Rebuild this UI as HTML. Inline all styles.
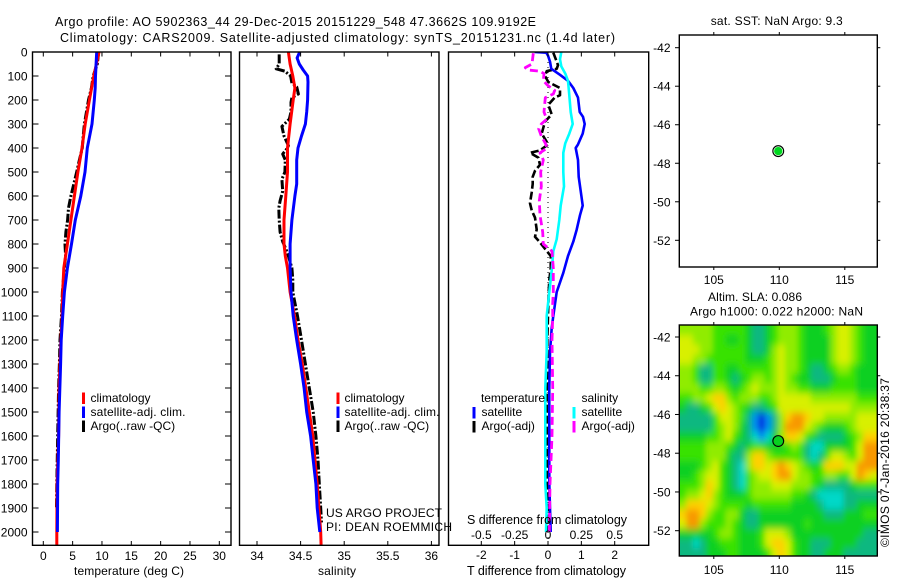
<!DOCTYPE html>
<html>
<head>
<meta charset="utf-8">
<title>Argo profile</title>
<style>
html,body{margin:0;padding:0;background:#fff;}
svg{display:block;}
text{font-family:"Liberation Sans",sans-serif;font-size:12px;fill:#000;}
text.wide{font-size:12.5px;}
</style>
</head>
<body>
<svg id="chart" width="900" height="580" viewBox="0 0 900 580" xmlns="http://www.w3.org/2000/svg">
  <rect width="900" height="580" fill="#fff"/>
  <defs>
    <clipPath id="p1c"><rect x="32.5" y="52" width="198.5" height="493.3"/></clipPath>
    <clipPath id="p2c"><rect x="239.5" y="52" width="199.5" height="493.3"/></clipPath>
    <clipPath id="p3c"><rect x="448.5" y="52" width="200.2" height="493.3"/></clipPath>
    <clipPath id="mapc"><rect x="679.3" y="325" width="198" height="231"/></clipPath>
    <filter id="soft" filterUnits="userSpaceOnUse" x="650" y="295" width="250" height="285"><feGaussianBlur stdDeviation="2.8 3.6"/></filter>
  </defs>

  <text class="wide" x="55" y="26" textLength="481">Argo profile: AO 5902363_44 29-Dec-2015 20151229_548 47.3662S 109.9192E</text>
  <text class="wide" x="60" y="42" textLength="555">Climatology: CARS2009. Satellite-adjusted climatology: synTS_20151231.nc (1.4d later)</text>

  <g id="heat" clip-path="url(#mapc)"><g id="heatCells" filter="url(#soft)"></g></g>
  <g id="p1"></g>
  <g id="p2"></g>
  <g id="p3"></g>
  <g id="m1"></g>
  <g id="m2"></g>

  <text x="74" y="575" textLength="110">temperature (deg C)</text>
  <text x="318" y="575" textLength="38">salinity</text>
  <text class="wide" x="467" y="575" textLength="159">T difference from climatology</text>
  <text class="wide" x="467" y="524" textLength="160">S difference from climatology</text>

  <g>
    <rect x="82" y="392.5" width="3" height="11.5" fill="#f00"/>
    <rect x="82" y="406.5" width="3" height="11.5" fill="#00f"/>
    <rect x="82" y="420.5" width="3" height="11.5" fill="#000"/>
    <text x="90.5" y="402">climatology</text>
    <text x="90.5" y="416" textLength="95">satellite-adj. clim.</text>
    <text x="90.5" y="430">Argo(..raw -QC)</text>
  </g>
  <g>
    <rect x="336.5" y="392.5" width="3" height="11.5" fill="#f00"/>
    <rect x="336.5" y="406.5" width="3" height="11.5" fill="#00f"/>
    <rect x="336.5" y="420.5" width="3" height="11.5" fill="#000"/>
    <text x="344.5" y="402">climatology</text>
    <text x="344.5" y="416" textLength="95">satellite-adj. clim.</text>
    <text x="344.5" y="430">Argo(..raw -QC)</text>
  </g>
  <g>
    <text x="481" y="402" textLength="64">temperature</text>
    <text x="581.5" y="402">salinity</text>
    <rect x="472.5" y="407" width="3" height="11.5" fill="#00f"/>
    <rect x="472.5" y="421" width="3" height="11.5" fill="#000"/>
    <rect x="572.5" y="407" width="3" height="11.5" fill="#0ff"/>
    <rect x="572.5" y="421" width="3" height="11.5" fill="#f0f"/>
    <text x="481.5" y="416">satellite</text>
    <text x="481.5" y="430">Argo(-adj)</text>
    <text x="581.5" y="416">satellite</text>
    <text x="581.5" y="430">Argo(-adj)</text>
  </g>

  <text x="326" y="517" textLength="116">US ARGO PROJECT</text>
  <text x="326" y="531" textLength="126">PI: DEAN ROEMMICH</text>

  <text x="710.7" y="25" textLength="132">sat. SST: NaN Argo: 9.3</text>
  <text x="708" y="301" textLength="94">Altim. SLA: 0.086</text>
  <text x="690" y="315.5" textLength="173">Argo h1000: 0.022 h2000: NaN</text>
  <text transform="translate(889,547) rotate(-90)" textLength="169">©IMOS 07-Jan-2016 20:38:37</text>
</svg>
<script>
// ---- profile data (depth in metres) ----
const depthTicks = [0,100,200,300,400,500,600,700,800,900,1000,1100,1200,1300,1400,1500,1600,1700,1800,1900,2000];
const tempTicks = [0,5,10,15,20,25,30];
const salTicks = [34,34.5,35,35.5,36];
const salTickLabels = ['34','34.5','35','35.5','36'];
const tDiffTicks = [-2,-1,0,1,2];
const sDiffTicks = [-0.5,-0.25,0,0.25,0.5];
const sDiffTickLabels = ['-0.5','-0.25','0','0.25','0.5'];
const lonTicks = [105,110,115];
const latTicks = [-42,-44,-46,-48,-50,-52];

const climTDepth = [0,100,200,300,400,500,600,700,800,900,1000,1100,1200,1400,1600,1800,2000,2055];
const climT = [9.5,8.6,7.85,7.15,6.6,5.9,5.3,4.7,4.1,3.5,3.3,3.2,3.0,2.7,2.6,2.35,2.3,2.3];
const satTDepth = [0,100,150,200,300,400,500,600,700,800,900,1000,1100,1200,1300,1500,1700,1800,2000];
const satT = [9.1,8.9,8.85,8.7,8.3,7.5,7.1,6.4,5.45,4.8,4.1,3.6,3.3,3.05,2.95,2.7,2.55,2.45,2.4];
const argoTDepth = [0,50,100,150,200,300,350,400,450,500,550,600,650,700,750,800,850,900,1000,1100,1200,1300,1400,1600,1800,1900];
const argoT = [9.45,9.2,8.5,8.2,7.7,7,6.8,6.65,6.15,5.7,5.2,4.7,4.3,4.15,3.85,3.7,3.8,3.6,3.25,3.1,2.85,2.75,2.6,2.45,2.3,2.25];

const climSDepth = [0,50,100,150,200,300,400,500,600,700,800,850,900,1000,1100,1200,1300,1400,1500,1600,1700,1800,1900,2000,2055];
const climS = [34.36,34.38,34.41,34.435,34.415,34.38,34.35,34.35,34.33,34.31,34.31,34.325,34.35,34.38,34.43,34.47,34.52,34.56,34.6,34.64,34.665,34.69,34.71,34.73,34.735];
const satSDepth = [0,25,50,75,100,125,200,250,300,350,400,450,550,600,700,800,900,1000,1100,1200,1300,1400,1500,1600,1700,1800,1900,2000];
const satS = [34.49,34.46,34.485,34.53,34.58,34.585,34.58,34.57,34.555,34.51,34.47,34.455,34.455,34.435,34.4,34.38,34.38,34.39,34.415,34.455,34.5,34.54,34.57,34.615,34.645,34.675,34.69,34.72];
const argoSDepth = [10,50,70,80,100,130,145,175,190,210,250,280,310,350,390,400,425,450,500,530,580,620,650,700,750,790,820,850,900,950,1000,1100,1200,1300,1400,1500,1600,1700,1800,1900,1960];
const argoS = [34.255,34.255,34.22,34.32,34.385,34.4,34.455,34.475,34.4,34.39,34.39,34.37,34.285,34.31,34.36,34.35,34.295,34.325,34.32,34.285,34.295,34.265,34.25,34.255,34.265,34.295,34.33,34.36,34.4,34.41,34.41,34.465,34.51,34.555,34.6,34.645,34.675,34.7,34.715,34.73,34.74];

const diffSatTDepth = [0,3,15,40,70,95,120,150,190,250,270,300,340,385,400,450,520,600,640,680,740,790,850,920,1000,1050,1100,1150,1250,1400,1600,1800,1900,2000];
const diffSatT = [-0.4,-0.05,0,0.06,0.1,0.36,0.6,0.76,0.9,0.95,1.05,1.1,1.04,0.9,0.83,0.9,0.92,1.0,1.04,0.96,0.86,0.76,0.6,0.46,0.26,0.21,0.16,0.11,0.06,0.04,0.04,0.04,0.06,0.08];
const diffSatSDepth = [0,30,60,90,120,180,250,300,340,380,420,500,560,640,700,780,830,900,1000,1050,1100,1250,1400,1600,1800,1900,2000];
const diffSatS = [0.1,0.09,0.1,0.13,0.15,0.16,0.17,0.185,0.16,0.13,0.115,0.115,0.12,0.095,0.085,0.065,0.04,0.03,0.01,0,-0.01,-0.01,-0.02,-0.02,-0.02,-0.01,-0.015];
const diffArgoTDepth = [3,40,55,70,80,100,125,150,180,190,220,260,290,340,385,410,420,440,470,495,520,550,585,630,660,690,740,770,790,820,850,900,950,1000,1100,1200,1400,1600,1800,2000];
const diffArgoT = [0.16,0.26,0.3,0.26,-0.04,-0.09,0.01,0.36,0.36,0.2,0.01,0.11,-0.09,-0.19,0.01,-0.24,-0.54,-0.29,-0.24,-0.39,-0.46,-0.46,-0.49,-0.54,-0.49,-0.39,-0.34,-0.39,-0.26,-0.09,0.08,0.08,0.04,0.02,0,-0.02,-0.02,-0.02,-0.02,0];
const diffArgoSDepth = [5,50,65,75,80,90,120,140,160,175,190,250,280,300,320,350,380,400,420,450,500,560,620,680,750,800,830,900,1000,1050,1100,1200,1400,1600,1800,2000];
const diffArgoS = [-0.11,-0.12,-0.17,-0.15,-0.06,-0.03,-0.035,0,0.05,0.04,-0.02,-0.03,-0.01,-0.05,-0.07,-0.05,-0.02,-0.005,-0.06,-0.035,-0.055,-0.05,-0.065,-0.06,-0.04,-0.035,0.03,0.04,0.04,0.035,0.035,0.03,0.035,0.03,0.015,0.01];

const floatLon = 109.92;
const floatLat = -47.37;

// SLA colour levels, 24 rows (north to south) by 30 columns (west to east)
const slaRows = [
[6,6,6,6,6,5,5,5,5,5,4,3,3,4,5,6,6,6,5,4,4,4,5,6,7,7,6,5,4,4],
[7,7,6,6,6,5,5,4,4,5,4,3,3,4,5,6,6,6,5,4,4,4,4,6,7,7,6,5,4,4],
[7,7,7,6,6,5,5,5,5,5,4,3,3,4,6,7,6,6,5,4,4,4,4,6,7,7,6,5,4,4],
[7,7,6,6,5,5,5,5,5,5,4,4,4,5,6,7,6,6,5,4,4,4,4,6,7,7,6,5,4,4],
[6,6,5,3,3,5,5,4,4,5,5,5,5,5,6,7,6,6,5,4,3,3,4,5,6,6,5,4,4,4],
[6,6,5,3,3,5,5,4,3,4,5,6,6,5,6,7,6,5,4,4,3,3,3,4,5,5,5,4,4,4],
[6,6,6,5,5,6,6,5,4,5,6,7,6,6,6,7,6,6,5,5,4,4,4,5,5,5,5,4,4,4],
[5,5,6,6,7,8,8,6,5,6,6,6,5,5,6,7,7,7,7,7,6,6,6,6,6,6,6,5,5,5],
[4,3,3,4,5,7,8,7,6,5,4,3,3,4,5,7,7,7,7,7,7,7,7,7,7,7,6,6,6,6],
[3,3,3,3,3,5,7,7,6,5,3,1,0,1,3,6,8,9,9,8,7,7,6,6,6,6,6,7,7,7],
[3,3,3,3,3,5,6,7,6,4,3,1,0,1,3,6,9,9,9,7,6,5,4,4,4,5,6,7,7,7],
[4,4,4,4,5,5,6,7,5,4,3,2,1,2,4,6,8,8,7,5,4,3,3,3,3,4,5,6,8,8],
[5,5,5,5,6,6,6,5,4,3,4,5,5,4,4,4,5,6,5,3,2,2,4,4,4,4,5,7,9,9],
[5,5,5,5,6,6,6,4,3,3,6,8,8,6,5,5,5,5,5,3,2,3,5,7,7,6,5,7,9,9],
[4,4,4,5,6,7,5,4,3,2,6,8,8,7,8,9,8,7,6,5,4,5,8,8,8,7,7,9,9,9],
[4,4,5,6,7,7,5,4,3,2,5,6,7,7,8,9,9,7,6,6,5,5,6,6,5,5,7,9,8,7],
[5,5,5,6,8,7,5,4,3,2,5,6,6,6,7,7,7,6,6,6,5,4,3,3,3,3,4,5,5,5],
[5,6,6,7,8,6,5,4,4,4,5,6,6,6,6,6,6,5,5,4,3,2,2,2,2,3,3,3,3,3],
[6,8,8,8,7,6,5,5,5,5,4,5,5,5,5,5,5,4,4,4,4,3,2,2,2,3,3,4,4,4],
[8,9,9,8,6,5,5,6,6,4,3,3,4,4,4,4,4,4,4,4,4,4,3,3,3,4,4,4,5,5],
[7,9,9,6,5,5,5,6,5,4,3,3,4,4,4,4,4,4,4,5,4,4,4,4,4,4,4,4,4,4],
[4,4,4,4,4,5,6,6,5,4,4,4,5,7,7,7,6,4,4,4,4,4,4,4,4,4,4,4,3,3],
[3,3,2,3,4,4,5,5,5,4,4,4,5,7,8,8,7,5,4,4,3,3,3,4,4,4,4,3,3,3],
[3,3,3,3,4,4,4,5,5,4,4,4,4,5,7,8,7,5,4,4,3,3,4,4,4,3,3,3,3,3]
];

// ---- axis functions ----
const SVGNS = 'http://www.w3.org/2000/svg';
const depthY = d => 52 + 0.24 * d;
const tempX = t => 43.3 + 5.867 * t;
const salX = s => 257 + 87.2 * (s - 34);
const tDiffX = t => 548 + 33.35 * t;
const sDiffX = s => 548 + 133.4 * s;
const lonX = l => 779.3 + (l - 110) * 13.1;
const lat1Y = l => 47.7 + (-42 - l) * 19.26;
const lat2Y = l => 337 + (-42 - l) * 19.37;
const levelColors = ['#0020e0','#0090f0','#00d8c8','#10b880','#08d020','#38e200','#90ec00','#d8f000','#ffd000','#f89800'];

function mk(parent, tag, attrs) {
  const el = document.createElementNS(SVGNS, tag);
  for (const k in attrs) el.setAttribute(k, attrs[k]);
  parent.appendChild(el);
  return el;
}
function frame(parent, x1, x2, y1, y2) {
  const el = mk(parent, 'rect', {x:x1, y:y1, width:x2-x1, height:y2-y1, fill:'none', stroke:'#000', 'stroke-width':1.4});
  
  
}
function tick(parent, x1, y1, x2, y2) {
  const el = mk(parent, 'line', {x1:x1, y1:y1, x2:x2, y2:y2, stroke:'#000', 'stroke-width':1});
  
  
}
function label(parent, x, y, str, anchor) {
  const el = mk(parent, 'text', {x:x, y:y, 'text-anchor':anchor});
  el.textContent = str;
  
  
}
function series(parent, depths, values, xf, color, width, dash, clip, name) {
  const pts = depths.map((d, i) => xf(values[i]).toFixed(1) + ',' + depthY(d).toFixed(1)).join(' ');
  const el = mk(parent, 'polyline', {points:pts, fill:'none', stroke:color, 'stroke-width':width, 'clip-path':'url(#' + clip + ')', 'stroke-linejoin':'round'});
  if (dash) el.setAttribute('stroke-dasharray', dash);
  
  
}
const argoDash = '9 2 2 2';

// ---- temperature panel ----
const p1 = document.getElementById('p1');
series(p1, argoTDepth, argoT, tempX, '#000', 3, argoDash, 'p1c', 'argo-temperature-line');
series(p1, climTDepth, climT, tempX, '#f00', 3, null, 'p1c', 'climatology-temperature-line');
series(p1, satTDepth, satT, tempX, '#00f', 3, null, 'p1c', 'satellite-temperature-line');
frame(p1, 32.5, 231, 52, 545.3);
depthTicks.forEach(d => {
  tick(p1, 32.5, depthY(d), 38.5, depthY(d));
  tick(p1, 225, depthY(d), 231, depthY(d));
  label(p1, 27.5, depthY(d) + 4.5, String(d), 'end');
});
tempTicks.forEach(t => {
  tick(p1, tempX(t), 52, tempX(t), 56.5);
  tick(p1, tempX(t), 545.3, tempX(t), 541);
  label(p1, tempX(t), 560, String(t), 'middle');
});

// ---- salinity panel ----
const p2 = document.getElementById('p2');
series(p2, argoSDepth, argoS, salX, '#000', 3, argoDash, 'p2c', 'argo-salinity-line');
series(p2, climSDepth, climS, salX, '#f00', 3, null, 'p2c', 'climatology-salinity-line');
series(p2, satSDepth, satS, salX, '#00f', 3, null, 'p2c', 'satellite-salinity-line');
frame(p2, 239.5, 439, 52, 545.3);
salTicks.forEach((s, i) => {
  tick(p2, salX(s), 52, salX(s), 56.5);
  tick(p2, salX(s), 545.3, salX(s), 541);
  label(p2, salX(s), 560, salTickLabels[i], 'middle');
});

// ---- difference panel ----
const p3 = document.getElementById('p3');
const zero = mk(p3, 'line', {x1:tDiffX(0), y1:depthY(0), x2:tDiffX(0), y2:depthY(2055), stroke:'#000', 'stroke-width':1, 'stroke-dasharray':'1 4'});


series(p3, diffArgoTDepth, diffArgoT, tDiffX, '#000', 2.6, '8 3', 'p3c', 'argo-t-difference-line');
series(p3, diffSatTDepth, diffSatT, tDiffX, '#00f', 2.6, null, 'p3c', 'satellite-t-difference-line');
series(p3, diffSatSDepth, diffSatS, sDiffX, '#0ff', 2.6, null, 'p3c', 'satellite-s-difference-line');
series(p3, diffArgoSDepth, diffArgoS, sDiffX, '#f0f', 2.8, '8 4', 'p3c', 'argo-s-difference-line');
frame(p3, 448.5, 648.7, 52, 545.3);
tDiffTicks.forEach(t => {
  tick(p3, tDiffX(t), 52, tDiffX(t), 56.5);
  tick(p3, tDiffX(t), 545.3, tDiffX(t), 541);
  label(p3, tDiffX(t), 559, String(t), 'middle');
});
sDiffTicks.forEach((s, i) => {
  label(p3, sDiffX(s), 539, sDiffTickLabels[i], 'middle');
});

// ---- maps ----
function mapAxes(g, top, bottom, latY, labelGap) {
  frame(g, 679.3, 877.3, top, bottom);
  lonTicks.forEach(l => {
    tick(g, lonX(l), top, lonX(l), top - 3);
    tick(g, lonX(l), bottom, lonX(l), bottom + 3);
    label(g, lonX(l), bottom + labelGap, String(l), 'middle');
  });
  latTicks.forEach(l => {
    tick(g, 679.3, latY(l), 675, latY(l));
    tick(g, 877.3, latY(l), 880.3, latY(l));
    label(g, 670.5, latY(l) + 4.5, String(l), 'end');
  });
}
function marker(g, cy, ringFill, coreFill) {
  const ring = mk(g, 'circle', {cx:lonX(floatLon), cy:cy, r:5.4, fill:ringFill, stroke:'#000', 'stroke-width':1.1});
  
  
  const core = mk(g, 'circle', {cx:lonX(floatLon), cy:cy, r:4.1, fill:coreFill});
  
  
}
const cellsG = document.getElementById('heatCells');
slaRows.forEach((row, r) => {
  row.forEach((v, c) => {
    const lon0 = 102.4 + c * 0.5, lat0 = -41.4 - r * 0.5;
    let x = lonX(lon0), y = lat2Y(lat0), w = lonX(lon0 + 0.5) - x + 0.5, h = lat2Y(lat0 - 0.5) - y + 0.5;
    if (c === 0) { x -= 14; w += 14; }
    if (c === row.length - 1) { w += 14; }
    if (r === 0) { y -= 14; h += 14; }
    if (r === slaRows.length - 1) { h += 14; }
    const cell = mk(cellsG, 'rect', {x:x.toFixed(2), y:y.toFixed(2), width:w.toFixed(2), height:h.toFixed(2), fill:levelColors[v]});
    
    
  });
});
const m1 = document.getElementById('m1');
const m2 = document.getElementById('m2');
mapAxes(m1, 35, 267, lat1Y, 17);
mapAxes(m2, 325, 556, lat2Y, 18);
marker(m1, lat1Y(floatLat), '#d8ffd8', '#00d820');
marker(m2, lat2Y(floatLat), '#08d020', '#08d020');
</script>
</body>
</html>
